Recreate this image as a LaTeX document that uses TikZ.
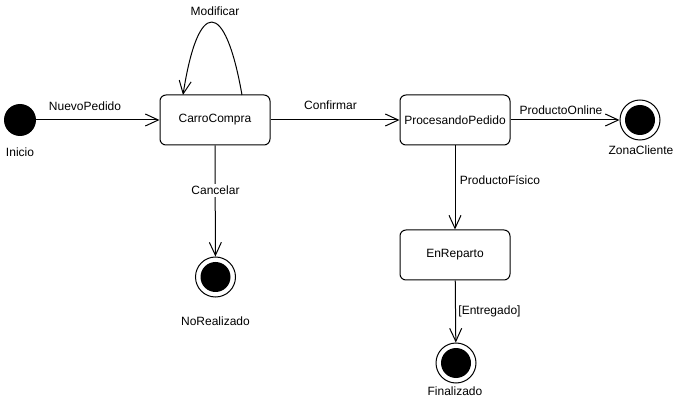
\documentclass[tikz,border=0pt]{standalone}
\usepackage{fontspec}
\setmainfont{Liberation Sans}
\usetikzlibrary{arrows.meta}
\begin{document}
\begin{tikzpicture}[x=1pt,y=-1pt,
  font=\fontsize{12pt}{14pt}\selectfont,
  statebox/.style={draw, line width=1pt, rounded corners=6pt, minimum width=110pt, minimum height=50pt, inner sep=0pt},
  initstate/.style={circle, fill=black, minimum size=32pt, inner sep=0pt},
  finalstate/.style={circle, draw, line width=1pt, minimum size=40pt, inner sep=0pt,
    path picture={\fill[black] (path picture bounding box.center) circle (15pt);}},
  edge/.style={line width=1pt, -{Straight Barb[length=13pt,width=12pt]}},
  lbl/.style={anchor=base, inner sep=0pt},
  ]
\useasboundingbox (0,0) rectangle (681,401);
% states
\node[initstate] (ini) at (20,120) {};
\node[statebox] (carro) at (215,120) {CarroCompra};
\node[statebox] (proc) at (455,120) {ProcesandoPedido};
\node[finalstate] (zona) at (640,120) {};
\node[finalstate] (nore) at (215.5,277) {};
\node[statebox] (repar) at (455,255) {EnReparto};
\node[finalstate] (fin) at (456,363) {};
% state labels
\node[lbl] (tini) at (20,157) {Inicio};
\node[lbl] (tzona) at (641,155) {ZonaCliente};
\node[lbl] (tnore) at (215.5,325.5) {NoRealizado};
\node[lbl] (tfin) at (455,395) {Finalizado};
% edges
\draw[edge] (ini) -- (carro);
\node[lbl] (lnuevo) at (85,111) {NuevoPedido};
\coordinate (loopa) at (242,95);
\coordinate (loopb) at (183,95);
\draw[edge] (loopa) .. controls (225,-2) and (198,-2) .. (loopb);
\node[lbl] (lmod) at (215,15.5) {Modificar};
\draw[edge] (carro) -- (proc);
\node[lbl] (lconf) at (330.5,110) {Confirmar};
\draw[edge] (proc) -- (zona);
\node[lbl] (lonline) at (561,115) {ProductoOnline};
\draw[edge] (carro.south) -- (nore);
\node[lbl, fill=white, inner sep=2pt] (lcanc) at (215.5,195) {Cancelar};
\draw[edge] (proc) -- (repar);
\node[lbl] (lfis) at (500,185) {ProductoFísico};
\draw[edge] (repar) -- (fin);
\node[lbl] (lent) at (489.5,314.5) {[Entregado]};
\end{tikzpicture}
\end{document}
